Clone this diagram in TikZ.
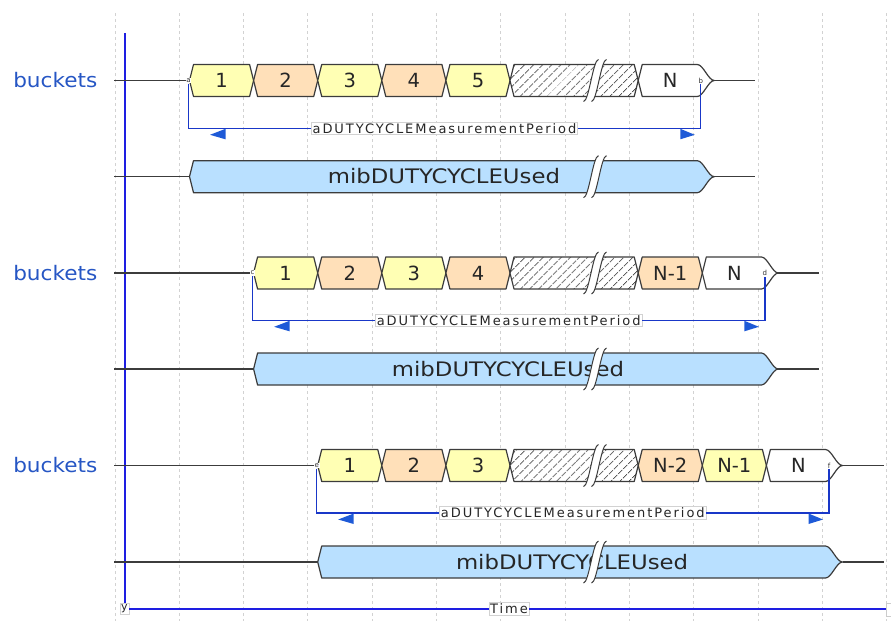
\documentclass[tikz,border=0pt]{standalone}
\usepackage{fontspec}
\setmainfont{DejaVu Sans}
\newfontfamily\bigf[FakeStretch=1.08]{DejaVu Sans}
\newfontfamily\mibf[FakeStretch=1.14]{DejaVu Sans}
\newfontfamily\numf{DejaVu Sans}
\newfontfamily\smallf[LetterSpace=15]{DejaVu Sans}
\usetikzlibrary{patterns.meta}
\definecolor{edgec}{RGB}{60,60,60}
\definecolor{yel}{RGB}{255,255,180}
\definecolor{ora}{RGB}{255,224,185}
\definecolor{mibc}{RGB}{185,224,255}
\definecolor{lblblue}{RGB}{38,86,196}
\definecolor{axisc}{RGB}{30,30,225}
\definecolor{arrc}{RGB}{25,55,200}
\definecolor{headc}{RGB}{30,90,215}
\definecolor{gridc}{RGB}{210,210,210}
% bucket: name, x0, x1, yc, fill, text
\newcommand\bk[6]{%
  \filldraw[shp, fill=#5] (#2,#4) -- (#2+4,#4-16) -- (#3-4,#4-16) -- (#3,#4) -- (#3-4,#4+16) -- (#2+4,#4+16) -- cycle;
  \node[num] (#1) at ({(#2+#3)/2},#4+7) {#6};}
% bucket with end taper
\newcommand\bkend[6]{%
  \filldraw[shp, fill=#5] (#2,#4) -- (#2+4,#4-16) -- (#3-5,#4-16) .. controls (#3+1,#4-16) and (#3+6,#4) .. (#3+12,#4) .. controls (#3+6,#4) and (#3+1,#4+16) .. (#3-5,#4+16) -- (#2+4,#4+16) -- cycle;
  \node[num] (#1) at ({(#2+#3)/2},#4+7) {#6};}
% long bar with end taper: name, x0, x1, yc, fill, text
\newcommand\barend[6]{%
  \filldraw[shp, fill=#5] (#2,#4) -- (#2+4,#4-16) -- (#3-5,#4-16) .. controls (#3+1,#4-16) and (#3+6,#4) .. (#3+12,#4) .. controls (#3+6,#4) and (#3+1,#4+16) .. (#3-5,#4+16) -- (#2+4,#4+16) -- cycle;
  \node[num, font=\mibf\fontsize{20}{24}\selectfont] (#1) at ({(#2+#3)/2-2},#4+7.2) {#6};}
% hatched: x0, x1, yc
\newcommand\hbk[3]{%
  \path[shp, preaction={fill=white}, pattern={Lines[angle=45,distance=6.5pt,line width=0.85pt]}, pattern color=black!72]
    (#1,#3) -- (#1+4,#3-16) -- (#2-4,#3-16) -- (#2,#3) -- (#2-4,#3+16) -- (#1+4,#3+16) -- cycle;}
% gap mark: cx, cy
\newcommand\gapmk[2]{%
  \fill[white] (#1-11.5,#2+21) .. controls (#1-6,#2+21) and (#1-2,#2-21) .. (#1+3.5,#2-21) -- (#1+11.5,#2-21) .. controls (#1+6,#2-21) and (#1+2,#2+21) .. (#1-3.5,#2+21) -- cycle;
  \draw[gapl] (#1-11.5,#2+21) .. controls (#1-6,#2+21) and (#1-2,#2-21) .. (#1+3.5,#2-21);
  \draw[gapl] (#1-3.5,#2+21) .. controls (#1+2,#2+21) and (#1+6,#2-21) .. (#1+11.5,#2-21);}
% arrow heads: left vertical x, right vertical x, line y
\newcommand\heads[3]{%
  \fill[headc] (#1+21.5,#3+6.5) -- (#1+37,#3+0.5) -- (#1+37,#3+11) -- cycle;
  \fill[headc] (#2-6,#3+6.5) -- (#2-20.5,#3+0.5) -- (#2-20.5,#3+11) -- cycle;}
\begin{document}
\begin{tikzpicture}[x=1pt,y=-1pt,
  shp/.style={draw=edgec, line width=1.2pt, line join=round},
  sig/.style={draw=edgec, line width=1.5pt},
  gapl/.style={draw=edgec, line width=1pt},
  gridl/.style={draw=gridc, line width=1pt, dash pattern=on 3pt off 3pt},
  num/.style={anchor=base, inner sep=0pt, font=\numf\fontsize{19.5}{23}\selectfont, text=black!85},
  lbl/.style={anchor=base east, inner sep=0pt, font=\bigf\fontsize{20}{24}\selectfont, text=lblblue},
  mk/.style={fill=white, inner sep=0.8pt, font=\fontsize{7}{8}\selectfont, text=black!80},
  tag/.style={draw=gray!35, fill=white, inner sep=1.3pt, font=\smallf\fontsize{13}{15}\selectfont, text=black!85},
  arr/.style={draw=arrc, line width=1.2pt},
  axisln/.style={draw=axisc, line width=2pt}]
\useasboundingbox (0,0) rectangle (891,622);
% grid
\foreach \k in {0,...,12} \draw[gridl] ({115+64.3*\k},13) -- ({115+64.3*\k},621);
% axes
\coordinate (atop) at (124.5,33);
\coordinate (xend) at (886,609);
\node[tag, font=\smallf\fontsize{11}{13}\selectfont] (ylab) at (124.5,609) {y};
\node[tag] (tlab) at (509,609) {Time};
\draw[axisln] (atop) -- (ylab);
\draw[axisln] (ylab) -- (tlab);
\draw[axisln] (tlab) -- (xend);
\filldraw[draw=gray!40, fill=white] (886.5,603) rectangle (896,616);
% labels
\node[lbl] (lA) at (97.5,87.8) {buckets};
\node[lbl] (lC) at (97.5,280.3) {buckets};
\node[lbl] (lE) at (97.5,472.8) {buckets};
% ===== Row A (y=80.5)
\coordinate (sA0) at (114,80.5); \coordinate (sA1) at (189.5,80.5);
\coordinate (sA2) at (714.3,80.5); \coordinate (sA3) at (755.3,80.5);
\draw[sig] (sA0) -- (sA1); \draw[sig] (sA2) -- (sA3);
\bk{a1}{189.5}{253.6}{80.5}{yel}{1}
\bk{a2}{253.6}{317.7}{80.5}{ora}{2}
\bk{a3}{317.7}{381.8}{80.5}{yel}{3}
\bk{a4}{381.8}{445.9}{80.5}{ora}{4}
\bk{a5}{445.9}{510.0}{80.5}{yel}{5}
\hbk{510.0}{638.2}{80.5}
\bkend{a6}{638.2}{702.3}{80.5}{white}{N}
\gapmk{595}{80.5}
% ===== Row B (y=176.7)
\coordinate (sB0) at (114,176.7); \coordinate (sB1) at (189.5,176.7);
\coordinate (sB2) at (714.3,176.7); \coordinate (sB3) at (755.3,176.7);
\draw[sig] (sB0) -- (sB1); \draw[sig] (sB2) -- (sB3);
\barend{b1}{189.5}{702.3}{176.7}{mibc}{mibDUTYCYCLEUsed}
\gapmk{595}{176.7}
% ===== Row C (y=273)
\coordinate (sC0) at (114,273); \coordinate (sC1) at (253.6,273);
\coordinate (sC2) at (778.4,273); \coordinate (sC3) at (819.4,273);
\draw[sig] (sC0) -- (sC1); \draw[sig] (sC2) -- (sC3);
\bk{c1}{253.6}{317.7}{273}{yel}{1}
\bk{c2}{317.7}{381.8}{273}{ora}{2}
\bk{c3}{381.8}{445.9}{273}{yel}{3}
\bk{c4}{445.9}{510.0}{273}{ora}{4}
\hbk{510.0}{638.2}{273}
\bk{c5}{638.2}{702.3}{273}{ora}{N-1}
\bkend{c6}{702.3}{766.4}{273}{white}{N}
\gapmk{595}{273}
% ===== Row D (y=369)
\coordinate (sD0) at (114,369); \coordinate (sD1) at (253.6,369);
\coordinate (sD2) at (778.4,369); \coordinate (sD3) at (819.4,369);
\draw[sig] (sD0) -- (sD1); \draw[sig] (sD2) -- (sD3);
\barend{d1}{253.6}{766.4}{369}{mibc}{mibDUTYCYCLEUsed}
\gapmk{595}{369}
% ===== Row E (y=465.5)
\coordinate (sE0) at (114,465.5); \coordinate (sE1) at (317.7,465.5);
\coordinate (sE2) at (842.5,465.5); \coordinate (sE3) at (883.5,465.5);
\draw[sig] (sE0) -- (sE1); \draw[sig] (sE2) -- (sE3);
\bk{e1}{317.7}{381.8}{465.5}{yel}{1}
\bk{e2}{381.8}{445.9}{465.5}{ora}{2}
\bk{e3}{445.9}{510.0}{465.5}{yel}{3}
\hbk{510.0}{638.2}{465.5}
\bk{e4}{638.2}{702.3}{465.5}{ora}{N-2}
\bk{e5}{702.3}{766.4}{465.5}{yel}{N-1}
\bkend{e6}{766.4}{830.5}{465.5}{white}{N}
\gapmk{595}{465.5}
% ===== Row F (y=562)
\coordinate (sF0) at (114,562); \coordinate (sF1) at (317.7,562);
\coordinate (sF2) at (842.5,562); \coordinate (sF3) at (883.5,562);
\draw[sig] (sF0) -- (sF1); \draw[sig] (sF2) -- (sF3);
\barend{f1}{317.7}{830.5}{562}{mibc}{mibDUTYCYCLEUsed}
\gapmk{595}{562}
% ===== measurement period arrows
\node[mk] (ma) at (188.5,80.5) {a};
\node[mk] (mb) at (700.8,80.5) {b};
\node[tag] (pA) at (444.5,128.3) {aDUTYCYCLEMeasurementPeriod};
\draw[arr] (ma) |- (pA); \draw[arr] (pA) -| (mb);
\heads{188.5}{700.8}{128.3}
\node[mk] (mc) at (252.6,273) {c};
\node[mk] (md) at (764.9,273) {d};
\node[tag] (pC) at (508.7,320.3) {aDUTYCYCLEMeasurementPeriod};
\draw[arr] (mc) |- (pC); \draw[arr] (pC) -| (md);
\heads{252.6}{764.9}{320.3}
\node[mk] (me) at (316.7,465.5) {e};
\node[mk] (mf) at (829,465.5) {f};
\node[tag] (pE) at (572.8,513) {aDUTYCYCLEMeasurementPeriod};
\draw[arr] (me) |- (pE); \draw[arr] (pE) -| (mf);
\heads{316.7}{829}{513}
\end{tikzpicture}
\end{document}
